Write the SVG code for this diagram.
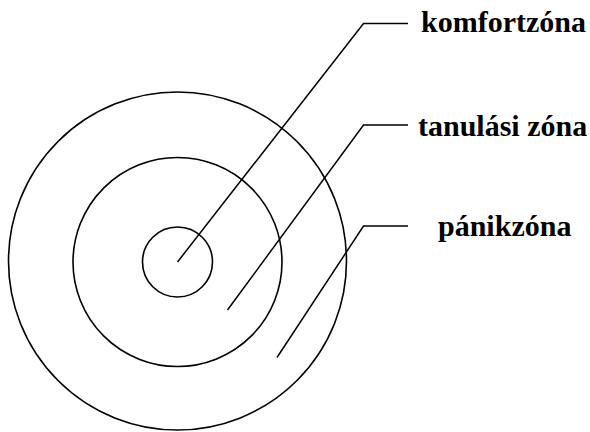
<svg xmlns="http://www.w3.org/2000/svg" width="590" height="432" viewBox="0 0 590 432">
<style>
.ring{fill:none;stroke:#000;stroke-width:1.6}
.lead{fill:none;stroke:#000;stroke-width:1.5}
.lbl{font-family:"Liberation Serif","Times New Roman",serif;font-weight:bold;font-size:30px;fill:#000}
</style>
<rect width="590" height="432" fill="#fff"/>
<g id="panikzona"><circle class="ring" cx="177.5" cy="261" r="169"/></g>
<g id="tanulasi-zona"><circle class="ring" cx="177.5" cy="262" r="104.5"/></g>
<g id="komfortzona"><circle class="ring" cx="177.5" cy="262" r="35"/></g>
<g id="connectors">
<polyline class="lead" points="177.5,262 363.5,23.5 408,23.5"/>
<polyline class="lead" points="227.5,310 363.5,125 408,125"/>
<polyline class="lead" points="277,357.5 363.5,226 408,226"/>
</g>
<g id="labels">
<text class="lbl" x="421" y="32">komfortzóna</text>
<text class="lbl" x="418" y="136">tanulási zóna</text>
<text class="lbl" x="438" y="236">pánikzóna</text>
</g>
</svg>
